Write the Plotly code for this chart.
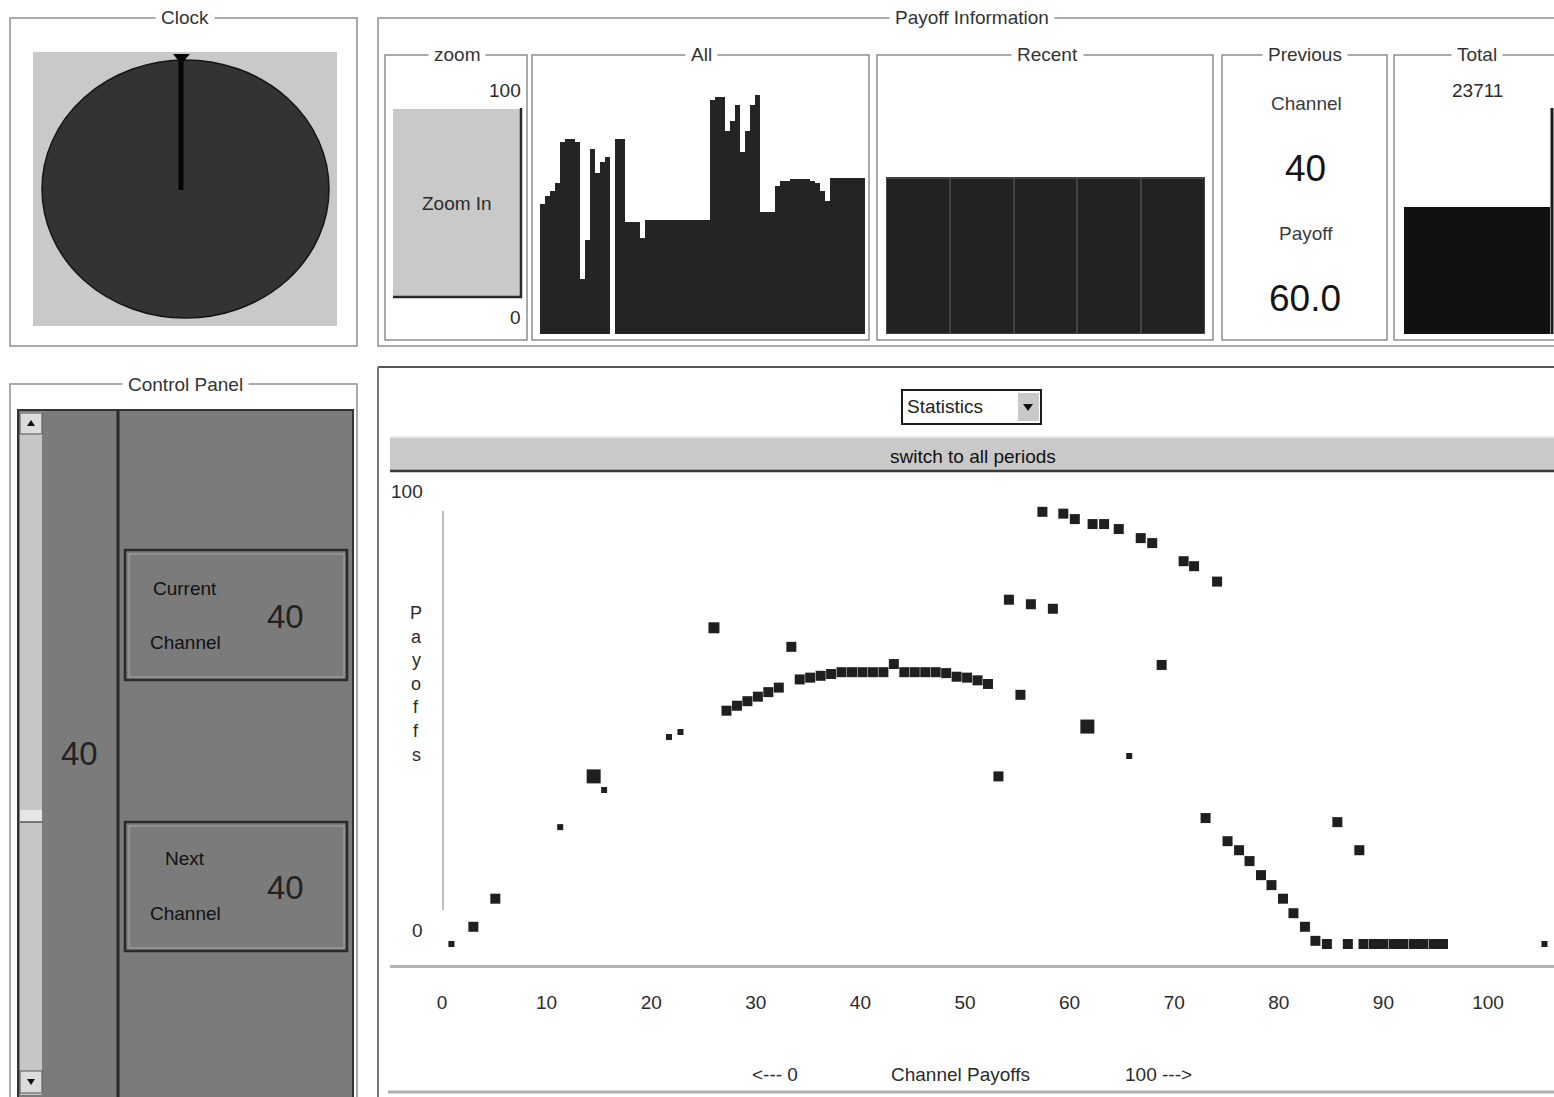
import plotly.graph_objects as go

# ---------------- DATA ----------------
# Main statistics scatter: channel vs payoff, with visit counts
channel = [0.9, 3.0, 5.1, 11.3, 14.5, 15.5, 21.7, 22.8, 26.0,
           27.2, 28.2, 29.2, 30.2, 31.2, 32.2, 33.4,
           34.2, 35.2, 36.2, 37.2, 38.2, 39.2, 40.2, 41.2, 42.2, 43.2,
           44.2, 45.2, 46.2, 47.2, 48.2, 49.2, 50.2, 51.2, 52.2,
           53.2, 54.2, 55.3, 56.3, 57.4, 58.4, 59.4, 60.5, 61.7, 62.2,
           63.3, 64.7, 65.7, 66.8, 67.9, 68.8, 70.9, 71.9, 73.0, 74.1,
           75.1, 76.2, 77.2, 78.3, 79.3, 80.4, 81.4, 82.5, 83.5, 84.6,
           85.6, 86.6, 87.7, 88.1, 89.1, 90.0, 91.0, 91.9, 92.9, 93.8,
           94.8, 95.7, 105.4]
payoff = [0, 3.8, 10, 25.8, 37, 34, 45.7, 46.8, 69.8,
          51.5, 52.6, 53.6, 54.6, 55.6, 56.6, 65.6,
          58.4, 58.8, 59.2, 59.6, 60, 60, 60, 60, 60, 61.8,
          60, 60, 60, 60, 59.8, 59.0, 58.8, 58.2, 57.4,
          37, 76, 55, 75, 95.4, 74, 95, 93.8, 48, 92.7,
          92.7, 91.6, 41.5, 89.6, 88.5, 61.6, 84.5, 83.4, 27.8, 80,
          22.7, 20.7, 18.3, 15.2, 13, 10, 6.8, 3.8, 0.7, 0,
          26.9, 0, 20.7, 0, 0, 0, 0, 0, 0, 0,
          0, 0, 0]
visits = [1, 2, 2, 1, 4, 1, 1, 1, 3,
          2, 2, 2, 2, 2, 2, 2,
          2, 2, 2, 2, 2, 2, 2, 2, 2, 2,
          2, 2, 2, 2, 2, 2, 2, 2, 2,
          2, 2, 2, 2, 2, 2, 2, 2, 4, 2,
          2, 2, 1, 2, 2, 2, 2, 2, 2, 2,
          2, 2, 2, 2, 2, 2, 2, 2, 2, 2,
          2, 2, 2, 2, 2, 2, 2, 2, 2, 2,
          2, 2, 1]
x_ticks = [0, 10, 20, 30, 40, 50, 60, 70, 80, 90, 100]
x_tick_labels = ["0", "10", "20", "30", "40", "50", "60", "70", "80", "90", "100"]
y_tick_labels = ["100", "0"]

# "All" panel: payoff for every period
all_payoffs = [50, 53, 55, 58, 74, 75, 75, 74, 21, 36, 71, 62, 66, 68, 0,
               75, 75, 43, 43, 43, 37, 44, 44, 44, 44, 44, 44, 44, 44, 44,
               44, 44, 44, 44, 90, 91, 91, 78, 82, 88, 70, 78, 88, 92, 47,
               47, 47, 57, 59, 59, 59.5, 59.5, 59.5, 59.5, 59, 58, 55, 51, 60, 60,
               60, 60, 60, 60, 60]
# "Recent" panel: last five periods
recent_payoffs = [60, 60, 60, 60, 60]
# Previous / total
prev_channel = 40
prev_payoff = 60.0
total_payoff = 23711
total_scale_max = 48600
current_channel = 40
next_channel = 40

# ---------------- HELPERS ----------------
W, H = 1554, 1097
FONT = "Liberation Sans, Arial, sans-serif"
TXT = "#2b2b2b"
FS = 19


def X(p):
    return p / W


def Y(p):
    return 1 - p / H


shapes = []
annotations = []


def box(x0, y0, x1, y1, line="#8f8f8f", width=1.5, fill=None):
    d = dict(type="rect", xref="paper", yref="paper", layer="below",
             x0=X(x0), x1=X(x1), y0=Y(y1), y1=Y(y0))
    d["line"] = dict(color=line, width=width) if line else dict(width=0)
    if fill:
        d["fillcolor"] = fill
    shapes.append(d)


def seg(x0, y0, x1, y1, color="#8f8f8f", width=1.5):
    shapes.append(dict(type="line", xref="paper", yref="paper", layer="below",
                       x0=X(x0), x1=X(x1), y0=Y(y0), y1=Y(y1),
                       line=dict(color=color, width=width)))


def tri(pts, color):
    path = "M " + " L ".join(f"{X(a)},{Y(b)}" for a, b in pts) + " Z"
    shapes.append(dict(type="path", xref="paper", yref="paper", layer="below",
                       path=path, fillcolor=color, line=dict(width=0)))


def label(x, y, s, size=FS, color=TXT, xanchor="center", bg=None, pad=0):
    a = dict(xref="paper", yref="paper", x=X(x), y=Y(y), text=s, showarrow=False,
             xanchor=xanchor, yanchor="middle",
             font=dict(family=FONT, size=size, color=color), borderpad=pad)
    if bg:
        a["bgcolor"] = bg
    annotations.append(a)


def title(x, y, s, size=FS):
    label(x, y, s, size=size, color="#333333", bg="white", pad=5)


# ---------------- CLOCK ----------------
box(10, 18, 357, 346)
title(185, 18, "Clock")
box(33, 52, 337, 326, line=None, fill="#c9c9c9")
shapes.append(dict(type="circle", xref="paper", yref="paper", layer="below",
                   x0=X(42), x1=X(329), y0=Y(318), y1=Y(60),
                   fillcolor="#333333", line=dict(color="#151515", width=1.5)))
seg(181, 62, 181, 190, color="#050505", width=5)
tri([(173, 54), (190, 54), (181, 64)], "#050505")

# ---------------- PAYOFF INFORMATION ----------------
box(378, 18, 1600, 346)
title(972, 18, "Payoff Information")

# zoom
box(385, 55, 527, 340)
title(457, 54, "zoom")
label(522, 90, "100", xanchor="right")
label(522, 317, "0", xanchor="right")
box(393, 109, 521, 297, line=None, fill="#c9c9c9")
seg(393, 297, 522, 297, color="#2a2a2a", width=2.5)
seg(521, 108, 521, 298, color="#2a2a2a", width=2.5)
label(457, 203, "Zoom In")

# All
box(532, 55, 869, 340)
title(701, 54, "All")
# Recent
box(877, 55, 1213, 340)
title(1047, 54, "Recent")
# Previous
box(1222, 55, 1387, 340)
title(1305, 54, "Previous")
label(1306, 104, "Channel", color="#3a3a3a")
label(1305, 168, str(prev_channel), size=37, color="#151515")
label(1306, 234, "Payoff", color="#3a3a3a")
label(1305, 298, f"{prev_payoff:.1f}", size=37, color="#151515")
# Total
box(1394, 55, 1600, 340)
title(1477, 54, "Total")
label(1477, 90, str(total_payoff))
seg(1552, 108, 1552, 334, color="#1a1a1a", width=3)

# ---------------- CONTROL PANEL ----------------
box(10, 384, 357, 1120)
title(185, 384, "Control Panel")
box(18, 410, 353, 1120, line="#333333", width=2, fill="#7b7b7b")
box(20, 412, 42, 1095, line=None, fill="#c6c6c6")
box(20, 413, 42, 434, line="#555555", width=1, fill="#dcdcdc")
tri([(27, 426), (35, 426), (31, 420)], "#111111")
box(20, 1071, 42, 1093, line="#555555", width=1, fill="#dcdcdc")
tri([(27, 1079), (35, 1079), (31, 1085)], "#111111")
box(20, 810, 42, 822, line=None, fill="#e6e6e6")
seg(20, 822, 42, 822, color="#555555", width=1.5)
seg(118, 410, 118, 1110, color="#2a2a2a", width=3)
label(79, 753, str(current_channel), size=33, color="#222222")

box(125, 550, 347, 680, line="#2a2a2a", width=2.5)
box(129, 554, 344, 677, line="#a8a8a8", width=1)
label(185, 588, "Current", color="#111111")
label(185, 642, "Channel", color="#111111")
label(285, 616, str(current_channel), size=33, color="#222222")

box(125, 822, 347, 951, line="#2a2a2a", width=2.5)
box(129, 826, 344, 948, line="#a8a8a8", width=1)
label(185, 858, "Next", color="#111111")
label(185, 913, "Channel", color="#111111")
label(285, 887, str(next_channel), size=33, color="#222222")

# ---------------- STATISTICS PANEL ----------------
seg(378, 367, 1600, 367, color="#555555", width=2)
seg(378, 367, 378, 1110, color="#777777", width=2)
seg(388, 1092, 1600, 1092, color="#b0b0b0", width=3)
box(902, 390, 1041, 424, line="#1a1a1a", width=2, fill="white")
label(906, 407, "Statistics", color="#222222", xanchor="left")
box(1018, 393, 1039, 421, line=None, fill="#c9c9c9")
tri([(1023, 404), (1033, 404), (1028, 411)], "#111111")
box(390, 437, 1600, 471, line=None, fill="#c9c9c9")
seg(390, 437, 1600, 437, color="#e9e9e9", width=2)
seg(390, 471, 1600, 471, color="#3a3a3a", width=2.5)
label(973, 456, "switch to all periods", color="#111111")

seg(443, 511, 443, 910, color="#a8a8a8", width=1.5)
label(407, 491, y_tick_labels[0])
label(418, 930, y_tick_labels[1])
for i, ch in enumerate("Payoffs"):
    label(416, 613 + i * 23.6, ch, size=18)
label(775, 1074, "&lt;--- 0")
label(961, 1074, "Channel Payoffs")
label(1158, 1074, "100 ---&gt;")

# ---------------- TRACES ----------------
size_map = {1: 6, 2: 10, 3: 11, 4: 14}
fig = go.Figure()
fig.add_trace(go.Scatter(
    x=channel, y=payoff, mode="markers",
    marker=dict(symbol="square", size=[size_map[v] for v in visits],
                color="#1f1f1f", opacity=1, line=dict(width=0)),
    xaxis="x", yaxis="y", hoverinfo="x+y"))
fig.add_trace(go.Bar(
    x=list(range(1, len(all_payoffs) + 1)), y=all_payoffs, width=1,
    marker=dict(color="#242424", line=dict(width=0)),
    xaxis="x2", yaxis="y2"))
fig.add_trace(go.Bar(
    x=list(range(1, len(recent_payoffs) + 1)), y=recent_payoffs, width=1,
    marker=dict(color="#222222", line=dict(color="#444444", width=2)),
    xaxis="x3", yaxis="y3"))
fig.add_trace(go.Bar(
    x=[0], y=[total_payoff], width=1,
    marker=dict(color="#111111", line=dict(width=0)),
    xaxis="x4", yaxis="y4"))

hidden = dict(visible=False, fixedrange=True, showgrid=False, zeroline=False)

fig.update_layout(
    width=W, height=H, autosize=False,
    margin=dict(l=0, r=0, t=0, b=0),
    paper_bgcolor="white", plot_bgcolor="rgba(0,0,0,0)",
    showlegend=False, bargap=0,
    font=dict(family=FONT, color=TXT),
    shapes=shapes, annotations=annotations,
    xaxis=dict(domain=[X(390), 1], range=[-4.97, 106.31],
               tickmode="array", tickvals=x_ticks, ticktext=x_tick_labels,
               ticks="outside", ticklen=18, tickcolor="rgba(0,0,0,0)",
               tickfont=dict(family=FONT, size=FS, color=TXT),
               showline=True, linecolor="#b4b4b4", linewidth=3,
               showgrid=False, zeroline=False, fixedrange=True),
    yaxis=dict(domain=[Y(965), Y(475)], range=[-4.636, 103.53], **hidden),
    xaxis2=dict(domain=[X(540), X(865)], range=[0.5, len(all_payoffs) + 0.5],
                anchor="y2", **hidden),
    yaxis2=dict(domain=[Y(334), Y(74)], range=[0, 100], anchor="x2", **hidden),
    xaxis3=dict(domain=[X(886), X(1205)], range=[0.5, len(recent_payoffs) + 0.5],
                anchor="y3", **hidden),
    yaxis3=dict(domain=[Y(334), Y(74)], range=[0, 100], anchor="x3", **hidden),
    xaxis4=dict(domain=[X(1404), X(1550)], range=[-0.5, 0.5], anchor="y4", **hidden),
    yaxis4=dict(domain=[Y(334), Y(74)], range=[0, total_scale_max], anchor="x4", **hidden),
)

fig.write_html("out.html", config={"displayModeBar": False},
               post_script="document.body.style.margin='0';document.body.style.overflow='hidden';")
